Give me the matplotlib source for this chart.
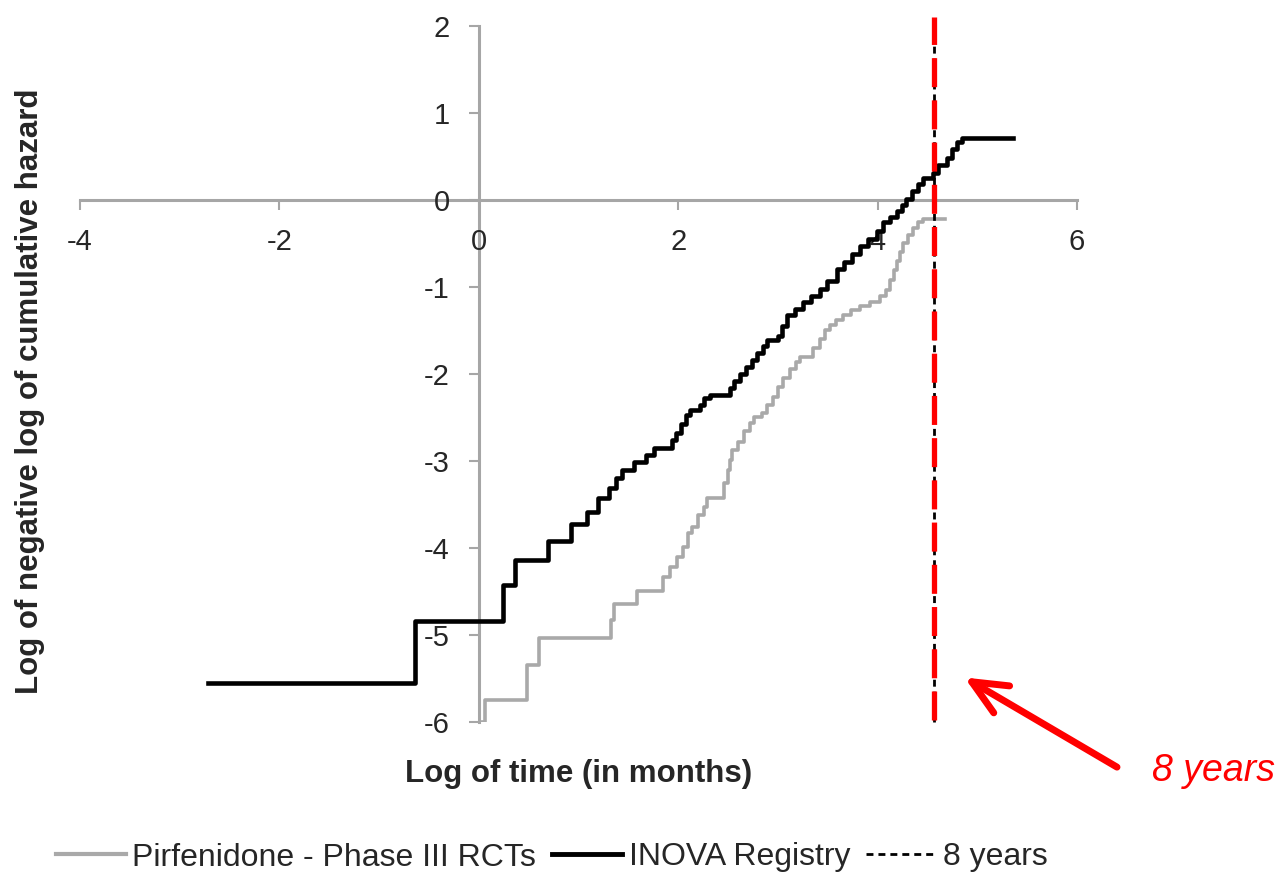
import numpy as np
import matplotlib
matplotlib.use("Agg")
import matplotlib.pyplot as plt
from matplotlib.lines import Line2D

plt.rcParams['font.family'] = ['Liberation Sans', 'DejaVu Sans']
plt.rcParams['axes.unicode_minus'] = False

# INOVA Registry: step function (log months, log(-log S))
inova_x = [-2.72, -0.64, 0.24, 0.36, 0.69, 0.92, 1.08, 1.19, 1.31, 1.38, 1.44, 1.56,
           1.68, 1.76, 1.94, 1.98, 2.03, 2.08, 2.12, 2.22, 2.26, 2.32, 2.52, 2.56,
           2.62, 2.68, 2.74, 2.79, 2.85, 2.89, 3.00, 3.04, 3.09, 3.17, 3.25, 3.33,
           3.42, 3.49, 3.59, 3.66, 3.74, 3.82, 3.90, 3.99, 4.05, 4.12, 4.19, 4.24,
           4.28, 4.34, 4.40, 4.45, 4.55, 4.60, 4.70, 4.75, 4.80, 4.85, 5.36]
inova_y = [-5.55, -4.84, -4.43, -4.14, -3.92, -3.73, -3.59, -3.43, -3.31, -3.20, -3.11, -3.01,
           -2.93, -2.85, -2.76, -2.68, -2.58, -2.47, -2.42, -2.36, -2.28, -2.24, -2.16, -2.08,
           -2.00, -1.92, -1.84, -1.76, -1.68, -1.61, -1.57, -1.45, -1.32, -1.25, -1.17, -1.10,
           -1.02, -0.93, -0.80, -0.71, -0.62, -0.53, -0.45, -0.36, -0.25, -0.20, -0.13, -0.06,
           0.01, 0.10, 0.18, 0.25, 0.31, 0.40, 0.48, 0.58, 0.66, 0.71, 0.71]

# Pirfenidone - Phase III RCTs
pirf_x = [0.03, 0.06, 0.48, 0.60, 1.33, 1.36, 1.59, 1.85, 1.92, 1.99, 2.05, 2.10,
          2.14, 2.20, 2.26, 2.29, 2.46, 2.50, 2.52, 2.54, 2.60, 2.66, 2.72, 2.76,
          2.84, 2.89, 2.95, 3.00, 3.05, 3.12, 3.18, 3.22, 3.35, 3.42, 3.47, 3.52,
          3.58, 3.65, 3.73, 3.82, 3.92, 4.02, 4.08, 4.12, 4.16, 4.19, 4.22, 4.25,
          4.30, 4.35, 4.40, 4.45, 4.52, 4.67]
pirf_y = [-6.00, -5.75, -5.35, -5.04, -4.83, -4.64, -4.50, -4.34, -4.22, -4.11, -3.99, -3.83,
          -3.76, -3.62, -3.53, -3.43, -3.25, -3.10, -2.99, -2.88, -2.78, -2.66, -2.57, -2.50,
          -2.45, -2.36, -2.27, -2.15, -2.05, -1.95, -1.86, -1.81, -1.70, -1.60, -1.50, -1.44,
          -1.38, -1.32, -1.27, -1.22, -1.17, -1.10, -1.04, -0.92, -0.81, -0.70, -0.60, -0.50,
          -0.40, -0.32, -0.26, -0.22, -0.22, -0.22]

eight_years = np.log(96)     # 96 months
x_ticks = [-4, -2, 0, 2, 4, 6]
y_ticks = [-6, -5, -4, -3, -2, -1, 0, 1, 2]

AXIS_GREY = '#a6a6a6'
TXT = '#262626'

fig = plt.figure(figsize=(12.8, 8.75), dpi=100)
ax = fig.add_axes([0.0625, 0.175, 0.779, 0.7955])

ax.plot(pirf_x, pirf_y, drawstyle='steps-post', color='#a9a9a9', lw=2.6,
        label='Pirfenidone - Phase III RCTs', zorder=3)
ax.plot(inova_x, inova_y, drawstyle='steps-post', color='black', lw=3.3,
        label='INOVA Registry', zorder=4)

# 8 year marker: thin black dashed line with red highlight on top
ax.plot([eight_years, eight_years], [-6, 2], color='black', lw=2.0,
        dashes=(2.5, 1.8), zorder=5, clip_on=False)
ax.plot([eight_years, eight_years], [-5.98, 2.1], color='red', lw=3.8,
        dashes=(5.5, 2.5), zorder=6, clip_on=False)

ax.set_xlim(-4, 6)
ax.set_ylim(-6, 2)
ax.set_xticks(x_ticks)
ax.set_yticks(y_ticks)

for side in ['top', 'right']:
    ax.spines[side].set_visible(False)
ax.spines['left'].set_position(('data', 0))
ax.spines['bottom'].set_position(('data', 0))
for side in ['left', 'bottom']:
    ax.spines[side].set_color(AXIS_GREY)
    ax.spines[side].set_linewidth(2.2)
    ax.spines[side].set_zorder(1)

ax.tick_params(axis='both', direction='out', length=7, width=1.5, color=AXIS_GREY,
               labelsize=21, labelcolor=TXT)
ax.tick_params(axis='x', pad=13)
ax.tick_params(axis='y', pad=14)

fig.text(0.452, 0.1063, 'Log of time (in months)', ha='center', va='baseline',
         fontsize=22.5, fontweight='bold', color=TXT)
fig.text(0.0234, 0.553, 'Log of negative log of cumulative hazard', ha='center', va='center',
         rotation=90, fontsize=22.5, fontweight='bold', color=TXT)

# red arrow + label pointing at the 8 year line
ax.annotate('', xy=(4.87, -5.49), xytext=(6.40, -6.52), annotation_clip=False,
            arrowprops=dict(arrowstyle='->,head_length=1.0,head_width=0.45',
                            color='red', lw=5, mutation_scale=25, shrinkA=0, shrinkB=0))
ax.text(7.37, -6.56, '8 years', color='red', fontsize=27, fontstyle='italic',
        ha='center', va='center', clip_on=False)

handles = [
    Line2D([], [], color='#a9a9a9', lw=3.0),
    Line2D([], [], color='black', lw=3.5),
    Line2D([], [], color='black', lw=2.0, dashes=(2.5, 1.8)),
]
labels = ['Pirfenidone - Phase III RCTs', 'INOVA Registry', '8 years']
fig.legend(handles, labels, loc='center', bbox_to_anchor=(0.431, 0.02), ncol=3,
           frameon=False, fontsize=23, handlelength=2.2, handletextpad=0.2,
           columnspacing=0.5, labelcolor=TXT, borderpad=0)

fig.savefig('out.png', dpi=100)
